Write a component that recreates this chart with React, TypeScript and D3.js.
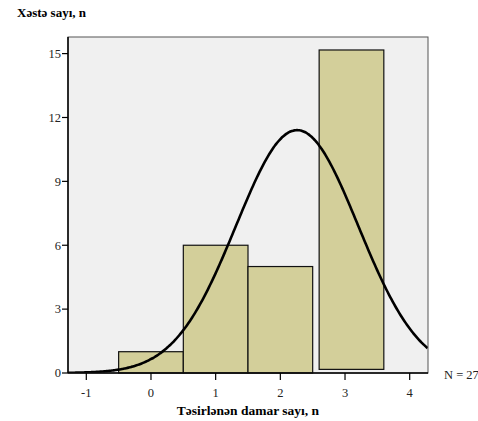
import React from "react";
import * as d3 from "d3";

// Data
const binStarts = [-0.5, 0.5, 1.5, 2.6];
const binEnds = [0.5, 1.5, 2.5, 3.6];
const binValues = [0, 1, 2, 3];
const counts = [1, 6, 5, 15];
const barBase = [0, 0, 0, 0.17];
const xTicks = [-1, 0, 1, 2, 3, 4];
const yTicks = [0, 3, 6, 9, 12, 15];
const yTitle = "Xəstə sayı, n";
const xTitle = "Təsirlənən damar sayı, n";
const nLabel = "N = 27";

const W = 478;
const H = 421;
const left = 68;
const right = 428;
const top = 37;
const bottom = 373;

export default function App() {
  const x = d3.scaleLinear().domain([-1.283, 4.283]).range([left, right]);
  const y = d3.scaleLinear().domain([0, 15.78]).range([bottom, top]);

  const N = d3.sum(counts);
  const mean = d3.sum(binValues.map((v, i) => v * counts[i])) / N;
  const ss = d3.sum(binValues.map((v, i) => counts[i] * (v - mean) ** 2));
  const sd = Math.sqrt(ss / (N - 1));
  const xs = d3.range(-1.283, 4.2831, 0.02);
  const normal = (t: number) =>
    (N * 1) / (sd * Math.sqrt(2 * Math.PI)) * Math.exp(-0.5 * ((t - mean) / sd) ** 2);
  const line = d3
    .line<number>()
    .x((t) => x(t))
    .y((t) => y(normal(t)))
    .curve(d3.curveBasis);

  const font = "'Liberation Serif', 'Times New Roman', serif";

  return (
    <svg
      width={W}
      height={H}
      style={{ position: "absolute", left: 0, top: 0, background: "#fff" }}
      fontFamily={font}
    >
      <defs>
        <clipPath id="plot">
          <rect x={left} y={top} width={right - left} height={bottom - top} />
        </clipPath>
      </defs>
      <rect x={left} y={top} width={right - left} height={bottom - top} fill="#f0f0f0" />
      {counts.map((c, i) => (
        <rect
          key={i}
          x={x(binStarts[i])}
          y={y(c + barBase[i])}
          width={x(binEnds[i]) - x(binStarts[i])}
          height={y(barBase[i]) - y(c + barBase[i])}
          fill="#d3cf9a"
          stroke="#111"
          strokeWidth={1.2}
        />
      ))}
      <path
        d={line(xs) || ""}
        fill="none"
        stroke="#000"
        strokeWidth={2.6}
        clipPath="url(#plot)"
      />
      <rect
        x={left}
        y={top}
        width={right - left}
        height={bottom - top}
        fill="none"
        stroke="#555"
        strokeWidth={1}
      />
      <line x1={left} x2={left} y1={top} y2={bottom} stroke="#000" strokeWidth={1.5} />
      <line x1={left} x2={right} y1={bottom} y2={bottom} stroke="#000" strokeWidth={1.5} />
      {yTicks.map((t) => (
        <g key={t}>
          <line x1={left - 6} x2={left} y1={y(t)} y2={y(t)} stroke="#000" strokeWidth={1.2} />
          <text x={left - 7} y={y(t)} dy="0.35em" textAnchor="end" fontSize={12.5} fill="#222">
            {t}
          </text>
        </g>
      ))}
      {xTicks.map((t) => (
        <g key={t}>
          <line x1={x(t)} x2={x(t)} y1={bottom} y2={bottom + 7} stroke="#000" strokeWidth={1.2} />
          <text x={x(t)} y={bottom + 24} textAnchor="middle" fontSize={12.5} fill="#222">
            {t}
          </text>
        </g>
      ))}
      <text x={17} y={17} fontSize={13} fontWeight="bold" fill="#000">
        {yTitle}
      </text>
      <text x={(left + right) / 2} y={415} textAnchor="middle" fontSize={13.5} fontWeight="bold" fill="#000">
        {xTitle}
      </text>
      <text x={444} y={bottom + 6} fontSize={12.5} fill="#222">
        {nLabel}
      </text>
    </svg>
  );
}
